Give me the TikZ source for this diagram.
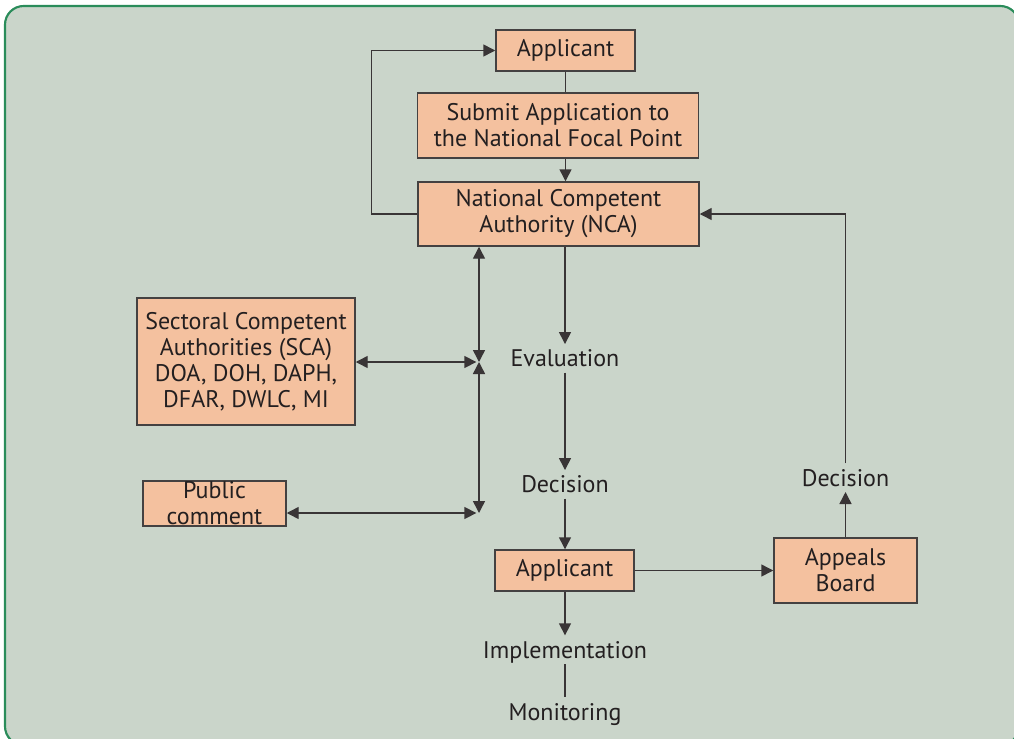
\documentclass[tikz,border=0pt]{standalone}
\usepackage{fontspec}
\setmainfont{PT Sans}
\usetikzlibrary{arrows.meta}
\definecolor{bgc}{HTML}{CAD5CA}
\definecolor{framec}{HTML}{2A8C5A}
\definecolor{boxc}{HTML}{F4C19F}
\definecolor{inkc}{HTML}{231F20}
\tikzset{
  box/.style={draw=inkc!85, fill=boxc, line width=1.1pt, inner sep=0pt, align=center,
    font=\fontsize{18}{19.5}\selectfont, text=inkc},
  lab/.style={inner sep=0pt, outer sep=4.5pt, text height=12.5pt, text depth=0pt,
    anchor=base, font=\fontsize{18}{19.5}\selectfont, text=inkc},
  conn/.style={draw=inkc!90, line width=1.1pt},
  tip/.style={-{Triangle[length=9pt,width=9pt]}},
  dtip/.style={{Triangle[length=9pt,width=9pt]}-{Triangle[length=9pt,width=9pt]}}
}
\begin{document}
\begin{tikzpicture}[x=0.75pt,y=-0.75pt]
\useasboundingbox (0,0) rectangle (1014,739);
\draw[framec, line width=1.6pt, fill=bgc, rounded corners=14pt] (5,6) rectangle (1019,745);

\node[box, minimum width=139*0.75pt, minimum height=41*0.75pt] (app1) at (565.5,50.5) {Applicant};
\node[box, minimum width=281*0.75pt, minimum height=65*0.75pt] (submit) at (558,125.5) {Submit Application to\\the National Focal Point};
\node[box, minimum width=281*0.75pt, minimum height=64*0.75pt] (nca) at (558.5,214) {National Competent\\Authority (NCA)};
\node[box, minimum width=218*0.75pt, minimum height=127*0.75pt] (sca) at (246,361.5) {Sectoral Competent\\Authorities (SCA)\\DOA, DOH, DAPH,\\DFAR, DWLC, MI};
\node[box, minimum width=143*0.75pt, minimum height=45*0.75pt] (public) at (214.5,503.5) {Public\\comment};
\node[box, minimum width=139*0.75pt, minimum height=41*0.75pt] (app2) at (564.5,570.5) {Applicant};
\node[box, minimum width=143*0.75pt, minimum height=65*0.75pt] (appeals) at (845.5,570.5) {Appeals\\Board};

\node[lab] (eval) at (565,366.7) {Evaluation};
\node[lab] (dec1) at (565,492.7) {Decision};
\node[lab] (dec2) at (845.5,486) {Decision};
\node[lab] (impl) at (565,658) {Implementation};
\node[lab] (mon) at (565,720) {Monitoring};

\coordinate (J) at (479,362);
\coordinate (J2) at (479,513);

\draw[conn] (app1.south) -- (app1.south |- submit.north);
\draw[conn, tip] (submit.south -| app1.south) -- (nca.north -| app1.south);
\draw[conn, tip] (nca.west) -- ++(-46,0) |- (app1.west);
\draw[conn, tip] (dec2.north) |- (nca.east);
\draw[conn, tip] (appeals.north) -- (dec2.south);
\draw[conn, tip] (eval.north |- nca.south) -- (eval.north);
\draw[conn, tip] (eval.south) -- (dec1.north);
\draw[conn, tip] (dec1.south) -- (app2.north -| dec1.south);
\draw[conn, tip] (app2.east) -- (appeals.west);
\draw[conn, tip] (app2.south -| impl.north) -- (impl.north);
\draw[conn] (impl.south) -- (mon.north);

\draw[conn, dtip] (nca.south -| J) -- (J);
\draw[conn, dtip] (J) -- (J2);
\draw[conn, dtip] (sca.east |- J) -- ([xshift=-2pt]J);
\draw[conn, dtip] (public.east |- J2) -- ([xshift=-2pt]J2);
\end{tikzpicture}
\end{document}
